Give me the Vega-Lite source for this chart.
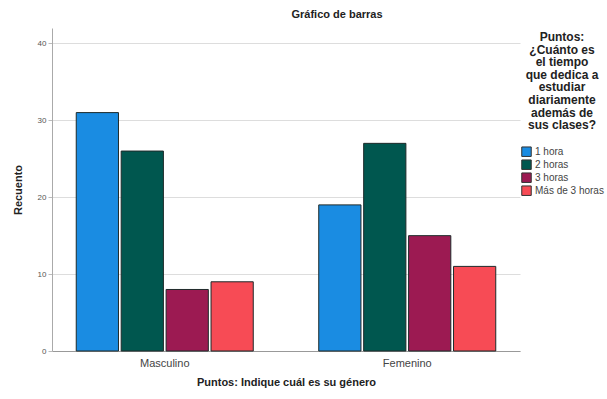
{
  "$schema": "https://vega.github.io/schema/vega-lite/v6.json",
  "width": 468,
  "height": 323,
  "autosize": "none",
  "padding": {"left": 52, "top": 28, "right": 87, "bottom": 48},
  "background": "white",
  "title": {"text": "Gráfico de barras", "font": "Liberation Sans", "fontSize": 11, "fontWeight": "bold", "color": "#222", "anchor": "middle", "dx": 51, "offset": 8},
  "data": {"values": [
    {"genero": "Masculino", "tiempo": "1 hora", "n": 31},
    {"genero": "Masculino", "tiempo": "2 horas", "n": 26},
    {"genero": "Masculino", "tiempo": "3 horas", "n": 8},
    {"genero": "Masculino", "tiempo": "Más de 3 horas", "n": 9},
    {"genero": "Femenino", "tiempo": "1 hora", "n": 19},
    {"genero": "Femenino", "tiempo": "2 horas", "n": 27},
    {"genero": "Femenino", "tiempo": "3 horas", "n": 15},
    {"genero": "Femenino", "tiempo": "Más de 3 horas", "n": 11}
  ]},
  "mark": {"type": "bar", "stroke": "#1e2a2a", "strokeWidth": 1},
  "encoding": {
    "x": {"field": "genero", "type": "nominal", "sort": ["Masculino", "Femenino"],
      "scale": {"paddingInner": 0.27, "paddingOuter": 0.1},
      "axis": {"title": "Puntos: Indique cuál es su género", "labelAngle": 0, "ticks": false, "labelFont": "Liberation Sans", "labelFontSize": 11, "labelColor": "#444", "labelPadding": 6, "titleFont": "Liberation Sans", "titleFontSize": 11, "titleFontWeight": "bold", "titleColor": "#222", "titlePadding": 8, "domainColor": "#999"}},
    "xOffset": {"field": "tiempo", "type": "nominal", "sort": ["1 hora", "2 horas", "3 horas", "Más de 3 horas"], "scale": {"paddingInner": 0.06}},
    "y": {"field": "n", "type": "quantitative", "scale": {"domain": [0, 42], "nice": false},
      "axis": {"title": "Recuento", "values": [0, 10, 20, 30, 40], "labelFont": "Liberation Sans", "labelFontSize": 8, "labelColor": "#555", "tickSize": 4, "tickColor": "#bbb", "domainColor": "#aaa", "gridColor": "#ddd", "titleFont": "Liberation Sans", "titleFontSize": 11, "titleFontWeight": "bold", "titleColor": "#222", "titlePadding": 14}},
    "color": {"field": "tiempo", "type": "nominal", "sort": ["1 hora", "2 horas", "3 horas", "Más de 3 horas"],
      "scale": {"domain": ["1 hora", "2 horas", "3 horas", "Más de 3 horas"], "range": ["#1a8ce2", "#00574f", "#9c1a52", "#f74b55"]},
      "legend": {"title": ["Puntos:", "¿Cuánto es", "el tiempo", "que dedica a", "estudiar", "diariamente", "además de", "sus clases?"],
        "orient": "none", "legendX": 469, "legendY": 4,
        "titleFont": "Liberation Sans", "titleFontSize": 12, "titleFontWeight": "bold", "titleColor": "#222", "titleAlign": "center", "titleAnchor": "middle", "titleLineHeight": 12.6, "titlePadding": 14,
        "labelFont": "Liberation Sans", "labelFontSize": 10, "labelColor": "#444", "labelOffset": 3,
        "symbolType": "square", "symbolSize": 90, "symbolStrokeColor": "#333", "symbolStrokeWidth": 1, "rowPadding": -2.4}}
  },
  "config": {"view": {"stroke": null}, "axis": {"grid": true}, "axisX": {"grid": false}}
}
